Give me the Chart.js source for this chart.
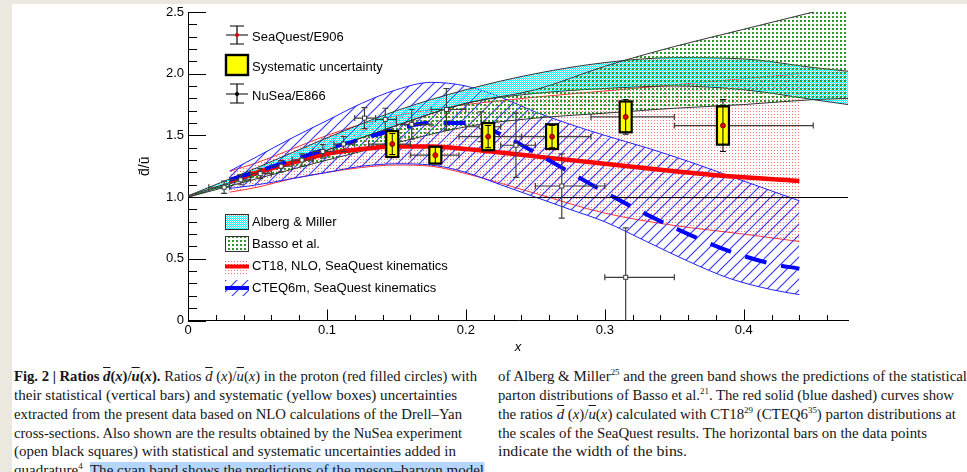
<!DOCTYPE html>
<html>
<head>
<meta charset="utf-8">
<script src="https://cdn.jsdelivr.net/npm/chart.js@4.4.1/dist/chart.umd.min.js"></script>
<style>
html, body { margin: 0; padding: 0; }
body { width: 967px; height: 472px; overflow: hidden; position: relative; background: #fff; }
.bar { position: absolute; background: #ebe9df; }
#c { position: absolute; left: 0; top: 0; }
.lg { position: absolute; left: 252px; font: 13px 'Liberation Sans', Arial, sans-serif; color: #000; line-height: 16px; white-space: nowrap; }
.ln { position: absolute; white-space: nowrap; font: 15px 'Liberation Serif', serif; color: #161616; line-height: 19px; transform-origin: 0 50%; }
.m { font-style: italic; }
.ov { text-decoration: overline; }
sup { font-size: 9px; vertical-align: 6px; line-height: 0; }
.hl { background: #b4d5fd; }
</style>
</head>
<body>
<div class="bar" style="left:0;top:0;width:967px;height:4px"></div>
<div class="bar" style="left:0;top:0;width:12px;height:472px"></div>
<canvas id="c" width="967" height="360"></canvas>

<!-- legends -->
<div class="lg" style="top:29px">SeaQuest/E906</div>
<div class="lg" style="top:59px">Systematic uncertainty</div>
<div class="lg" style="top:88px">NuSea/E866</div>
<div class="lg" style="top:214px">Alberg &amp; Miller</div>
<div class="lg" style="top:236px">Basso et al.</div>
<div class="lg" style="top:258px">CT18, NLO, SeaQuest kinematics</div>
<div class="lg" style="top:280px">CTEQ6m, SeaQuest kinematics</div>

<!-- caption -->
<div class="ln" data-w="463" style="left:14px;top:367px"><b>Fig. 2 | Ratios <span class="m"><span class="ov">d</span></span>(<span class="m">x</span>)/<span class="m"><span class="ov">u</span></span>(<span class="m">x</span>).</b> Ratios <span class="m"><span class="ov">d</span></span> (<span class="m">x</span>)/<span class="m"><span class="ov">u</span></span>(<span class="m">x</span>) in the proton (red filled circles) with</div>
<div class="ln" data-w="443" style="left:14px;top:386px">their statistical (vertical bars) and systematic (yellow boxes) uncertainties</div>
<div class="ln" data-w="448" style="left:14px;top:405px">extracted from the present data based on NLO calculations of the Drell–Yan</div>
<div class="ln" data-w="448" style="left:14px;top:424px">cross-sections. Also shown are the results obtained by the NuSea experiment</div>
<div class="ln" data-w="442" style="left:14px;top:442px">(open black squares) with statistical and systematic uncertainties added in</div>
<div class="ln" data-w="470" style="left:14px;top:461px">quadrature<sup>4</sup>. <span class="hl">The cyan band shows the predictions of the meson–baryon model</span></div>

<div class="ln" data-w="469" style="left:498px;top:367px">of Alberg &amp; Miller<sup>25</sup> and the green band shows the predictions of the statistical</div>
<div class="ln" data-w="456" style="left:498px;top:386px">parton distributions of Basso et al.<sup>21</sup>. The red solid (blue dashed) curves show</div>
<div class="ln" data-w="458" style="left:498px;top:405px">the ratios <span class="m"><span class="ov">d</span></span> (<span class="m">x</span>)/<span class="m"><span class="ov">u</span></span>(<span class="m">x</span>) calculated with CT18<sup>29</sup> (CTEQ6<sup>35</sup>) parton distributions at</div>
<div class="ln" data-w="429" style="left:498px;top:424px">the scales of the SeaQuest results. The horizontal bars on the data points</div>
<div class="ln" data-w="189" style="left:498px;top:442px">indicate the width of the bins.</div>

<script>
// axis ranges
const xMin = 0, xMax = 0.475;
const yMin = 0, yMax = 2.5;
const xMajor = [0, 0.1, 0.2, 0.3, 0.4];
const unityLine = 1.0;

// Alberg & Miller (cyan band)
const amX  = [0, 0.05, 0.1, 0.15, 0.2, 0.25, 0.3, 0.35, 0.4, 0.45, 0.475];
const amLo = [1.0, 1.18, 1.38, 1.58, 1.76, 1.84, 1.88, 1.9, 1.87, 1.79, 1.75];
const amHi = [1.01, 1.24, 1.48, 1.7, 1.87, 2.0, 2.09, 2.13, 2.12, 2.05, 2.02];

// Basso et al. (green band)
const bassoX  = [0, 0.05, 0.1, 0.15, 0.2, 0.25, 0.3, 0.35, 0.4, 0.45, 0.475];
const bassoLo = [1.0, 1.15, 1.3, 1.44, 1.57, 1.64, 1.68, 1.72, 1.75, 1.79, 1.8];
const bassoHi = [1.01, 1.19, 1.38, 1.58, 1.76, 1.87, 2.06, 2.22, 2.36, 2.5, 2.57];

// CT18 NLO (red)
const ct18X   = [0.03, 0.05, 0.075, 0.1, 0.125, 0.15, 0.175, 0.2, 0.25, 0.3, 0.35, 0.4, 0.44];
const ct18Mid = [1.13, 1.2, 1.28, 1.35, 1.39, 1.41, 1.41, 1.39, 1.33, 1.27, 1.21, 1.16, 1.13];
const ct18Hi  = [1.21, 1.28, 1.39, 1.5, 1.59, 1.66, 1.71, 1.75, 1.81, 1.86, 1.91, 1.96, 2.0];
const ct18Lo  = [1.04, 1.08, 1.15, 1.2, 1.24, 1.26, 1.25, 1.19, 1.03, 0.87, 0.77, 0.7, 0.64];

// CTEQ6m (blue)
const cteqX   = [0.03, 0.05, 0.075, 0.1, 0.125, 0.15, 0.175, 0.2, 0.225, 0.25, 0.275, 0.3, 0.33, 0.36, 0.39, 0.42, 0.44];
const cteqMid = [1.14, 1.21, 1.3, 1.39, 1.47, 1.55, 1.6, 1.6, 1.51, 1.36, 1.2, 1.04, 0.86, 0.7, 0.56, 0.46, 0.42];
const cteqHi  = [1.21, 1.33, 1.48, 1.62, 1.76, 1.87, 1.93, 1.9, 1.81, 1.69, 1.59, 1.5, 1.4, 1.29, 1.17, 1.05, 0.97];
const cteqLo  = [1.07, 1.1, 1.15, 1.2, 1.25, 1.27, 1.26, 1.2, 1.1, 1.0, 0.9, 0.8, 0.64, 0.48, 0.34, 0.25, 0.21];

// SeaQuest/E906
const seaX     = [0.147, 0.178, 0.216, 0.262, 0.315, 0.385];
const seaY     = [1.43, 1.34, 1.49, 1.49, 1.65, 1.58];
const seaStat  = [0.085, 0.07, 0.09, 0.09, 0.14, 0.21];
const seaSys   = [0.105, 0.068, 0.11, 0.1, 0.125, 0.155];
const seaBinLo = [0.13, 0.16, 0.195, 0.24, 0.29, 0.35];
const seaBinHi = [0.16, 0.195, 0.24, 0.29, 0.35, 0.45];

// NuSea/E866
const nuX     = [0.026, 0.038, 0.052, 0.067, 0.082, 0.097, 0.112, 0.127, 0.142, 0.161, 0.186, 0.211, 0.236, 0.269, 0.315];
const nuY     = [1.08, 1.14, 1.19, 1.25, 1.3, 1.37, 1.43, 1.64, 1.63, 1.59, 1.71, 1.57, 1.42, 1.09, 0.35];
const nuErr   = [0.05, 0.04, 0.04, 0.045, 0.05, 0.055, 0.06, 0.085, 0.09, 0.12, 0.17, 0.12, 0.26, 0.26, 0.4];
const nuBinLo = [0.015, 0.03, 0.045, 0.06, 0.075, 0.09, 0.105, 0.12, 0.135, 0.15, 0.175, 0.2, 0.225, 0.25, 0.3];
const nuBinHi = [0.03, 0.045, 0.06, 0.075, 0.09, 0.105, 0.12, 0.135, 0.15, 0.175, 0.2, 0.225, 0.25, 0.3, 0.35];

// fit caption lines to their measured widths
document.querySelectorAll('.ln').forEach(el => {
    const w = el.getBoundingClientRect().width;
    el.style.transform = 'scaleX(' + (parseFloat(el.dataset.w) / w) + ')';
});

const canvas = document.getElementById('c');
const ctx = canvas.getContext('2d');

function makePattern(size, draw) {
    const c = document.createElement('canvas');
    c.width = c.height = size;
    const g = c.getContext('2d');
    draw(g, size);
    return ctx.createPattern(c, 'repeat');
}

const cyanDots = makePattern(2, g => {
    g.fillStyle = '#00ffff';
    g.fillRect(0, 0, 1, 1);
    g.fillRect(1, 1, 1, 1);
});
const greenDots = makePattern(4, g => {
    g.fillStyle = '#2c9a2c';
    g.fillRect(0, 0, 2, 2);
});
const redDots = makePattern(3, g => {
    g.fillStyle = '#ff7070';
    g.fillRect(0, 0, 1, 1);
});
const blueHatch = makePattern(11, (g, s) => {
    g.strokeStyle = '#3a3aff';
    g.lineWidth = 1.2;
    g.beginPath();
    g.moveTo(-2, s + 2); g.lineTo(s + 2, -2);
    g.moveTo(-2, 2); g.lineTo(2, -2);
    g.moveTo(s - 2, s + 2); g.lineTo(s + 2, s - 2);
    g.stroke();
});

function curve(label, xs, ys, extra) {
    return Object.assign({
        label: label,
        data: xs.map((x, i) => ({x: x, y: ys[i]})),
        pointRadius: 0,
        borderWidth: 1,
        cubicInterpolationMode: 'monotone',
        fill: false
    }, extra);
}

const datasets = [
    curve('CT18 low', ct18X, ct18Lo, {borderColor: '#ff3030', order: 99}),
    curve('CT18 high', ct18X, ct18Hi, {borderColor: '#ff3030', fill: {target: 0}, backgroundColor: redDots, order: 100}),
    curve('CTEQ6m low', cteqX, cteqLo, {borderColor: '#2020ff', order: 89}),
    curve('CTEQ6m high', cteqX, cteqHi, {borderColor: '#2020ff', fill: {target: 2}, backgroundColor: blueHatch, order: 90}),
    curve('Alberg low', amX, amLo, {borderColor: '#333', order: 79}),
    curve('Alberg high', amX, amHi, {borderColor: '#333', fill: {target: 4}, backgroundColor: cyanDots, order: 80}),
    curve('Basso low', bassoX, bassoLo, {borderColor: '#333', order: 69}),
    curve('Basso high', bassoX, bassoHi, {borderColor: '#333', fill: {target: 6}, backgroundColor: greenDots, order: 70}),
    curve('CT18', ct18X, ct18Mid, {borderColor: '#ff0000', borderWidth: 4.5, order: 20}),
    curve('CTEQ6m', cteqX, cteqMid, {borderColor: '#0000ff', borderWidth: 4, borderDash: [22, 15], order: 10})
];

function seg(c, x1, y1, x2, y2) { c.moveTo(x1, y1); c.lineTo(x2, y2); }

// error bars, boxes and markers
const marks = {
    id: 'marks',
    afterDatasetsDraw(chart) {
        const {ctx: c, chartArea: a, scales: {x, y}} = chart;
        c.save();
        c.beginPath();
        c.rect(a.left, a.top, a.right - a.left, a.bottom - a.top);
        c.clip();

        const py1 = Math.round(y.getPixelForValue(unityLine)) + 0.5;
        c.beginPath();
        c.strokeStyle = '#000';
        c.lineWidth = 1.2;
        seg(c, a.left, py1, a.right, py1);
        c.stroke();

        // NuSea
        nuX.forEach((xv, i) => {
            const px = x.getPixelForValue(xv), py = y.getPixelForValue(nuY[i]);
            const l = x.getPixelForValue(nuBinLo[i]), r = x.getPixelForValue(nuBinHi[i]);
            const t = y.getPixelForValue(nuY[i] + nuErr[i]), b = y.getPixelForValue(nuY[i] - nuErr[i]);
            c.beginPath();
            c.strokeStyle = '#3c3c3c';
            c.lineWidth = 1.2;
            seg(c, l, py, r, py);
            seg(c, l, py - 3, l, py + 3);
            seg(c, r, py - 3, r, py + 3);
            seg(c, px, t, px, b);
            seg(c, px - 3, t, px + 3, t);
            seg(c, px - 3, b, px + 3, b);
            c.stroke();
            c.fillStyle = '#fff';
            c.lineWidth = 1;
            c.fillRect(px - 2, py - 2, 4, 4);
            c.strokeRect(px - 2, py - 2, 4, 4);
        });

        // SeaQuest
        seaX.forEach((xv, i) => {
            const px = x.getPixelForValue(xv), py = y.getPixelForValue(seaY[i]);
            const l = x.getPixelForValue(seaBinLo[i]), r = x.getPixelForValue(seaBinHi[i]);
            c.beginPath();
            c.strokeStyle = '#3c3c3c';
            c.lineWidth = 1.2;
            seg(c, l, py, r, py);
            seg(c, l, py - 3, l, py + 3);
            seg(c, r, py - 3, r, py + 3);
            c.stroke();

            const bt = y.getPixelForValue(seaY[i] + seaSys[i]), bb = y.getPixelForValue(seaY[i] - seaSys[i]);
            c.fillStyle = '#ffff00';
            c.strokeStyle = '#000';
            c.lineWidth = 2.2;
            c.fillRect(px - 6, bt, 12, bb - bt);
            c.strokeRect(px - 6, bt, 12, bb - bt);

            const st = y.getPixelForValue(seaY[i] + seaStat[i]), sb = y.getPixelForValue(seaY[i] - seaStat[i]);
            c.beginPath();
            c.lineWidth = 1;
            seg(c, px, st, px, sb);
            seg(c, px - 3, st, px + 3, st);
            seg(c, px - 3, sb, px + 3, sb);
            c.stroke();

            c.beginPath();
            c.arc(px, py, 2.5, 0, Math.PI * 2);
            c.fillStyle = '#e00000';
            c.fill();
            c.lineWidth = 0.8;
            c.strokeStyle = '#600';
            c.stroke();
        });
        c.restore();
    },
    afterDraw(chart) {
        const {ctx: c, chartArea: a, scales: {x, y}} = chart;
        c.save();
        // inward tick marks
        c.beginPath();
        c.strokeStyle = '#000';
        c.lineWidth = 1;
        for (let k = 0; k <= 25; k++) {
            const py = Math.round(y.getPixelForValue(k / 10)) + 0.5;
            seg(c, a.left, py, a.left + (k % 5 === 0 ? 18 : 9), py);
        }
        for (let k = 0; k * 0.02 <= xMax + 1e-9; k++) {
            const px = Math.round(x.getPixelForValue(k * 0.02)) + 0.5;
            seg(c, px, a.bottom, px, a.bottom - (k % 5 === 0 ? 11 : 5.5));
        }
        c.stroke();

        // legend symbols
        const sx = 237;
        [[35, '#e00000', 26, 44], [94, '#000', 84, 103]].forEach(([cy, col, t, b]) => {
            c.beginPath();
            c.strokeStyle = '#000';
            c.lineWidth = 1.2;
            seg(c, sx, t, sx, b);
            seg(c, sx - 7, t, sx + 7, t);
            seg(c, sx - 7, b, sx + 7, b);
            seg(c, sx - 11, cy, sx + 11, cy);
            c.stroke();
            c.beginPath();
            c.arc(sx, cy, 2, 0, Math.PI * 2);
            c.fillStyle = col;
            c.fill();
        });
        c.fillStyle = '#ffff00';
        c.strokeStyle = '#000';
        c.lineWidth = 2.4;
        c.fillRect(226, 55, 22, 20);
        c.strokeRect(226, 55, 22, 20);

        c.lineWidth = 1;
        c.strokeStyle = '#333';
        c.fillStyle = cyanDots;
        c.fillRect(225.5, 214.5, 23, 15);
        c.strokeRect(225.5, 214.5, 23, 15);
        c.fillStyle = greenDots;
        c.fillRect(225.5, 236.5, 23, 15);
        c.strokeRect(225.5, 236.5, 23, 15);

        c.fillStyle = redDots;
        c.fillRect(225, 259, 24, 15);
        c.beginPath();
        c.strokeStyle = '#ff0000';
        c.lineWidth = 4;
        seg(c, 225, 266.5, 249, 266.5);
        c.stroke();

        c.fillStyle = blueHatch;
        c.fillRect(225, 280, 24, 16);
        c.beginPath();
        c.strokeStyle = '#0000ff';
        c.lineWidth = 4;
        seg(c, 225, 288, 249, 288);
        c.stroke();
        c.restore();
    }
};

Chart.defaults.font.family = "'Liberation Sans', Arial, sans-serif";
Chart.defaults.font.size = 13;
Chart.defaults.color = '#000';

new Chart(ctx, {
    type: 'line',
    data: {datasets: datasets},
    options: {
        responsive: false,
        animation: false,
        devicePixelRatio: 1,
        layout: {padding: {left: 0, right: 119, top: 12, bottom: 0}},
        plugins: {legend: {display: false}, tooltip: {enabled: false}},
        scales: {
            x: {
                type: 'linear',
                min: xMin,
                max: xMax,
                afterBuildTicks: s => { s.ticks = xMajor.map(v => ({value: v})); },
                afterFit: s => { s.height = 39.5; },
                grid: {display: true, drawOnChartArea: false, drawTicks: false},
                border: {display: true, color: '#000', width: 1},
                ticks: {padding: 2, maxRotation: 0, autoSkip: false, callback: v => v === 0 ? '0' : v.toFixed(1)},
                title: {display: true, text: 'x', font: {size: 13, style: 'italic'}, padding: {top: 0, bottom: 5}}
            },
            y: {
                min: yMin,
                max: yMax,
                afterFit: s => { s.width = 188; },
                grid: {display: true, drawOnChartArea: false, drawTicks: false},
                border: {display: true, color: '#000', width: 1},
                ticks: {stepSize: 0.5, padding: 4, callback: v => v === 0 ? '0' : v.toFixed(1)},
                title: {display: true, text: 'd\u0304/u\u0304', font: {size: 14}, padding: {top: 137, bottom: 0}}
            }
        }
    },
    plugins: [marks]
});
</script>
</body>
</html>
